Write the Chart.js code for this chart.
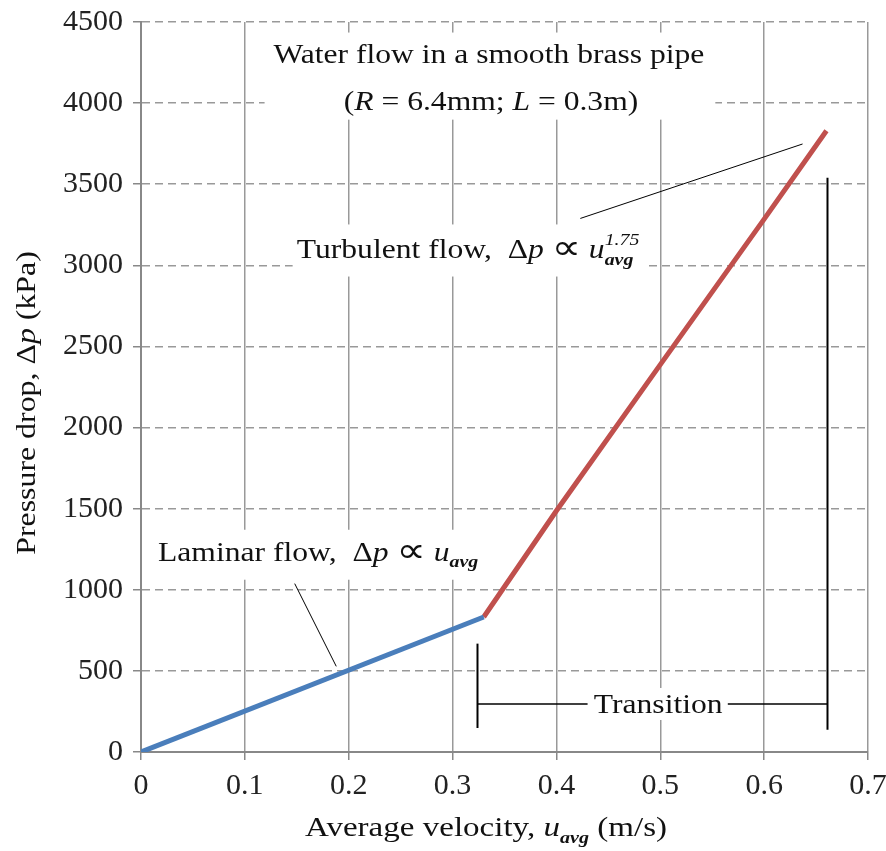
<!DOCTYPE html>
<html>
<head>
<meta charset="utf-8">
<script src="https://cdn.jsdelivr.net/npm/chart.js@4.4.1/dist/chart.umd.min.js"></script>
<style>
    body{ margin:0; background:#fff; }
    #wrap{ width:886px; height:851px; position:relative; }
</style>
</head>
<body>
<div id="wrap"><canvas id="flowChart"></canvas></div>
<script>

// DATA

const laminarU  = [0, 0.33];
const laminarDp = [0, 832];

const turbU  = [0.33, 0.40, 0.50, 0.60, 0.66];
const turbDp = [832, 1487, 2388, 3285, 3830];

const xTicks = ["0", "0.1", "0.2", "0.3", "0.4", "0.5", "0.6", "0.7"];
const yTicks = ["0", "500", "1000", "1500", "2000", "2500", "3000", "3500", "4000", "4500"];

const FONT = "'Liberation Serif', 'DejaVu Serif', serif";

function toPoints(xs, ys){
    return xs.map((x, i) => ({ x: x, y: ys[i] }));
}

// RICH TEXT (italic, sub, sup), stretched sideways like the original

function segFont(s, size){
    if(s.sym) return Math.round(size*1.3) + "px 'DejaVu Sans', sans-serif";
    return (s.it ? "italic " : "") + size + "px " + FONT;
}

function segWidth(ctx, s, size){
    if(s.sub !== undefined || s.sup !== undefined){
        let w = 0;
        if(s.sub){ ctx.font = "italic bold " + Math.round(size*0.62) + "px " + FONT; w = Math.max(w, ctx.measureText(s.sub).width); }
        if(s.sup){ ctx.font = "italic " + Math.round(size*0.62) + "px " + FONT; w = Math.max(w, ctx.measureText(s.sup).width); }
        return w;
    }
    ctx.font = segFont(s, size);
    return ctx.measureText(s.t).width;
}

function drawRich(ctx, segs, x, y, size, align, sx){
    let total = 0;
    segs.forEach(s => total += segWidth(ctx, s, size));
    let cx = 0;
    if(align === "center") cx = -total/2;
    if(align === "right") cx = -total;
    ctx.save();
    ctx.translate(x, y);
    ctx.scale(sx || 1, 1);
    ctx.textAlign = "left";
    ctx.textBaseline = "alphabetic";
    ctx.fillStyle = "#111";
    segs.forEach(s => {
        let w = segWidth(ctx, s, size);
        if(s.sub !== undefined || s.sup !== undefined){
            if(s.sub){
                ctx.font = "italic bold " + Math.round(size*0.62) + "px " + FONT;
                ctx.fillText(s.sub, cx, size*0.25);
            }
            if(s.sup){
                ctx.font = "italic " + Math.round(size*0.62) + "px " + FONT;
                ctx.fillText(s.sup, cx, -size*0.5);
            }
        } else {
            ctx.font = segFont(s, size);
            ctx.fillText(s.t, cx, s.sym ? 1 : 0);
        }
        cx += w;
    });
    ctx.restore();
}

// ANNOTATIONS

const notes = {

    id: "notes",

    beforeDatasetsDraw(chart){
        const ctx = chart.ctx, xs = chart.scales.x, ys = chart.scales.y;
        const box = (x0, x1, y0, y1) => {
            ctx.fillStyle = "#fff";
            ctx.fillRect(xs.getPixelForValue(x0), ys.getPixelForValue(y1),
                xs.getPixelForValue(x1) - xs.getPixelForValue(x0),
                ys.getPixelForValue(y0) - ys.getPixelForValue(y1));
        };
        ctx.save();
        box(0.119, 0.553, 3898, 4435);
        box(0.146, 0.488, 2931, 3252);
        box(0.0106, 0.331, 1062, 1370);
        ctx.restore();
    },

    afterDatasetsDraw(chart){
        const ctx = chart.ctx, xs = chart.scales.x, ys = chart.scales.y;
        const px = v => xs.getPixelForValue(v);
        const py = v => ys.getPixelForValue(v);
        const line = (x0, y0, x1, y1, w) => {
            ctx.beginPath();
            ctx.moveTo(px(x0), py(y0));
            ctx.lineTo(px(x1), py(y1));
            ctx.lineWidth = w;
            ctx.strokeStyle = "#000";
            ctx.stroke();
        };
        const SX = 1.17;

        ctx.save();

        // title
        drawRich(ctx, [{t:"Water flow in a smooth brass pipe"}], px(0.335), py(4250), 27, "center", SX);
        drawRich(ctx, [
            {t:"("}, {t:"R", it:true}, {t:" = 6.4mm; "}, {t:"L", it:true}, {t:" = 0.3m)"}
        ], px(0.337), py(3960), 27, "center", SX);

        // turbulent
        line(0.423, 3289, 0.637, 3748, 1);
        drawRich(ctx, [
            {t:"Turbulent flow,  \u0394"}, {t:"p", it:true}, {t:" "}, {t:"\u221D", sym:true}, {t:" "}, {t:"u", it:true},
            {sub:"avg", sup:"1.75"}
        ], px(0.15), py(3043), 27, "left", SX);

        // laminar
        line(0.148, 1038, 0.188, 528, 1);
        drawRich(ctx, [
            {t:"Laminar flow,  \u0394"}, {t:"p", it:true}, {t:" "}, {t:"\u221D", sym:true}, {t:" "}, {t:"u", it:true},
            {sub:"avg"}
        ], px(0.0164), py(1180), 27, "left", SX);

        // transition bracket
        line(0.324, 668, 0.324, 148, 2);
        line(0.661, 3540, 0.661, 137, 2);
        line(0.324, 296, 0.661, 296, 1.5);
        ctx.fillStyle = "#fff";
        ctx.fillRect(px(0.430), py(296) - 16, px(0.565) - px(0.430), 32);
        drawRich(ctx, [{t:"Transition"}], px(0.498), py(296) + 9, 27, "center", SX);

        ctx.restore();
    },

    afterDraw(chart){
        const ctx = chart.ctx;
        // y axis title
        ctx.save();
        ctx.translate(26, 403);
        ctx.rotate(-Math.PI/2);
        drawRich(ctx, [
            {t:"Pressure drop, \u0394"}, {t:"p", it:true}, {t:" (kPa)"}
        ], 0, 9, 27, "center", 1.18);
        ctx.restore();

        // x axis title
        drawRich(ctx, [
            {t:"Average velocity, "}, {t:"u", it:true}, {sub:"avg"}, {t:" (m/s)"}
        ], 486, 836, 28, "center", 1.18);
    }
};

// CHART

new Chart(document.getElementById("flowChart"), {

    type: "line",

    data: {
        datasets: [
            {
                label: "Laminar",
                data: toPoints(laminarU, laminarDp),
                borderColor: "#4a7ebb",
                borderWidth: 5,
                pointRadius: 0,
                borderCapStyle: "butt"
            },
            {
                label: "Turbulent",
                data: toPoints(turbU, turbDp),
                borderColor: "#c0504d",
                borderWidth: 5,
                pointRadius: 0,
                borderCapStyle: "butt"
            }
        ]
    },

    options: {
        responsive: true,
        maintainAspectRatio: false,
        animation: false,
        layout: { padding: { top: 22, right: 18, left: 0, bottom: 0 } },
        plugins: {
            legend: { display: false },
            tooltip: { enabled: false }
        },
        scales: {
            x: {
                type: "linear",
                min: 0,
                max: 0.7,
                afterFit(scale){ scale.height = 99; scale.paddingLeft = 0; scale.paddingRight = 0; },
                afterBuildTicks(scale){ scale.ticks = xTicks.map(t => ({ value: parseFloat(t) })); },
                ticks: {
                    callback: (v, i) => xTicks[i],
                    font: { family: FONT, size: 30 },
                    color: "#222",
                    padding: 8,
                    maxRotation: 0
                },
                grid: {
                    color: "#999",
                    lineWidth: 1.5,
                    tickLength: 8,
                    tickColor: "#888"
                },
                border: { color: "#888", width: 2 }
            },
            y: {
                min: 0,
                max: 4500,
                afterFit(scale){ scale.width = 141; scale.paddingTop = 0; scale.paddingBottom = 0; },
                afterBuildTicks(scale){ scale.ticks = yTicks.map(t => ({ value: parseFloat(t) })); },
                ticks: {
                    callback: (v, i) => yTicks[i],
                    font: { family: FONT, size: 30 },
                    color: "#222",
                    padding: 10
                },
                grid: {
                    color: "#999",
                    lineWidth: 1.5,
                    tickLength: 8,
                    tickColor: "#888",
                    tickBorderDash: [0, 0]
                },
                border: { color: "#888", width: 2, dash: [8, 5] }
            }
        }
    },

    plugins: [notes]
});

</script>
</body>
</html>
